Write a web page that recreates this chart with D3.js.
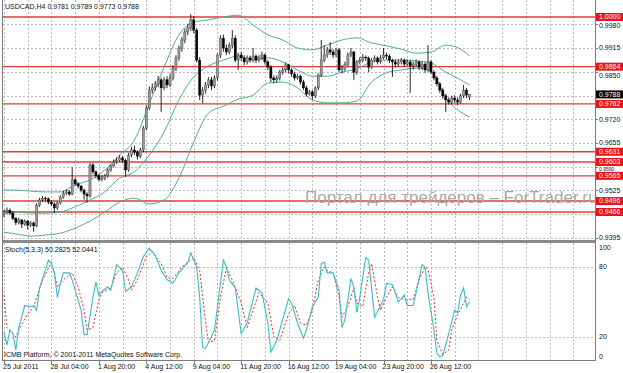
<!DOCTYPE html>
<html lang="en">
<head>
<meta charset="UTF-8">
<title>USDCAD,H4</title>
<script src="https://cdnjs.cloudflare.com/ajax/libs/d3/7.8.5/d3.min.js"></script>
<style>
  body { margin: 0; background: #fff; }
  text { font-family: "Liberation Sans", Arial, sans-serif; }
  .lbl { font-size: 7px; fill: #111; }
  .grid { stroke: #bdbdbd; stroke-width: 1; stroke-dasharray: 2,2; shape-rendering: crispEdges; }
  .frame { stroke: #7a7a7a; stroke-width: 1; shape-rendering: crispEdges; }
  .band { fill: none; stroke: #4fae92; stroke-width: 1; }
</style>
</head>
<body>
<div id="chart"></div>
<script>

// USDCAD H4 candles, prices in pips (0.9788 -> 9788)
var openP = [9458,9466,9471,9463,9449,9438,9444,9433,9441,9430,9436,9428,9485,9499,9504,9502,9493,9488,9477,9491,
  9507,9518,9521,9515,9554,9543,9537,9526,9515,9510,9595,9576,9565,9556,9559,9565,9581,9592,9603,9608,
  9614,9608,9581,9622,9636,9630,9619,9636,9696,9751,9800,9806,9817,9828,9806,9828,9814,9833,9860,9888,
  9915,9937,9959,9970,9992,9964,9882,9786,9800,9814,9828,9811,9833,9896,9942,9915,9904,9923,9942,9882,
  9896,9888,9877,9888,9882,9893,9882,9888,9896,9877,9863,9833,9828,9833,9849,9855,9869,9855,9844,9833,
  9838,9822,9806,9789,9795,9784,9806,9841,9882,9896,9910,9904,9896,9910,9855,9860,9871,9896,9904,9849,
  9877,9882,9890,9888,9863,9882,9888,9877,9888,9896,9893,9882,9877,9871,9877,9882,9871,9877,9866,9871,
  9877,9863,9871,9855,9877,9849,9833,9817,9800,9784,9773,9767,9778,9773,9767,9784,9800,9781];
var highP = [9472,9478,9476,9468,9452,9450,9447,9446,9444,9441,9440,9490,9505,9510,9508,9506,9498,9492,9495,9512,
  9524,9528,9526,9589,9560,9548,9540,9530,9520,9600,9600,9580,9570,9566,9570,9586,9597,9610,9616,9622,
  9620,9612,9628,9645,9648,9635,9642,9702,9758,9810,9818,9825,9838,9834,9835,9838,9845,9868,9895,9922,
  9945,9968,9982,10008,10003,9970,9890,9808,9822,9835,9836,9840,9900,9950,9952,9925,9930,9964,9950,9902,
  9905,9895,9895,9894,9915,9898,9896,9905,9900,9882,9868,9840,9840,9855,9862,9875,9872,9860,9850,9845,
  9842,9828,9812,9800,9800,9810,9846,9937,9923,9918,9931,9912,9916,9915,9868,9878,9902,9915,9908,9882,
  9890,9898,9895,9892,9888,9895,9892,9896,9915,9902,9898,9886,9884,9884,9888,9886,9884,9882,9878,9884,
  9880,9878,9876,9923,9882,9854,9838,9822,9806,9790,9780,9784,9786,9780,9790,9814,9806,9789];
var lowP = [9452,9460,9458,9444,9430,9432,9422,9428,9418,9425,9412,9424,9480,9494,9495,9488,9482,9463,9472,9486,
  9502,9512,9510,9512,9538,9530,9520,9500,9491,9505,9570,9558,9550,9550,9553,9560,9576,9588,9598,9604,
  9600,9562,9576,9616,9622,9610,9614,9630,9690,9745,9790,9798,9808,9740,9800,9805,9808,9826,9852,9880,
  9905,9928,9950,9962,9955,9876,9772,9764,9790,9805,9800,9805,9826,9888,9905,9896,9898,9915,9876,9855,
  9880,9868,9870,9875,9876,9874,9876,9882,9870,9855,9822,9818,9820,9826,9842,9848,9845,9836,9826,9828,
  9815,9800,9782,9785,9773,9778,9800,9836,9876,9888,9896,9888,9890,9849,9845,9852,9865,9890,9827,9842,
  9870,9876,9880,9849,9858,9876,9870,9872,9884,9884,9874,9836,9862,9864,9870,9864,9866,9792,9856,9864,
  9855,9856,9847,9850,9843,9826,9810,9792,9776,9740,9760,9760,9764,9758,9762,9778,9778,9773];
var closeP = [9466,9471,9463,9449,9438,9444,9433,9441,9430,9436,9428,9485,9499,9504,9502,9493,9488,9477,9491,9507,
  9518,9521,9515,9554,9543,9537,9526,9515,9510,9595,9576,9565,9556,9559,9565,9581,9592,9603,9608,9614,
  9608,9581,9622,9636,9630,9619,9636,9696,9751,9800,9806,9817,9828,9806,9828,9814,9833,9860,9888,9915,
  9937,9959,9970,9992,9964,9882,9786,9800,9814,9828,9811,9833,9896,9942,9915,9904,9923,9942,9882,9896,
  9888,9877,9888,9882,9893,9882,9888,9896,9877,9863,9833,9828,9833,9849,9855,9869,9855,9844,9833,9838,
  9822,9806,9789,9795,9784,9806,9841,9882,9896,9910,9904,9896,9910,9855,9860,9871,9896,9904,9849,9877,
  9882,9890,9888,9863,9882,9888,9877,9888,9896,9893,9882,9877,9871,9877,9882,9871,9877,9866,9871,9877,
  9863,9871,9855,9877,9849,9833,9817,9800,9784,9773,9767,9778,9773,9767,9784,9800,9786,9788];

// Bollinger bands at these bar numbers
var bandIdx = [0,4,9,14,19,24,29,34,39,44,49,54,59,64,69,74,79,84,89,94,99,104,109,114,119,124,129,134,139,144,149,154,157];
var bandUpper = [9526,9526,9523,9521,9521,9540,9554,9581,9622,9663,9762,9863,9951,9986,9992,10000,10005,9978,9951,9937,9915,9910,9923,9937,9943,9929,9921,9912,9901,9904,9923,9912,9893];
var bandMiddle = [9469,9466,9463,9463,9466,9480,9499,9521,9559,9576,9622,9685,9773,9836,9866,9882,9893,9882,9888,9877,9855,9838,9838,9849,9858,9877,9882,9882,9880,9874,9849,9828,9814];
var bandLower = [9411,9406,9400,9403,9408,9422,9441,9466,9493,9504,9488,9499,9559,9658,9737,9756,9775,9786,9819,9822,9806,9773,9765,9765,9770,9822,9847,9855,9860,9852,9778,9740,9726];

// Stochastic (5,3,3): main line and signal line
var stochIdx = [0,1,2,3,4,5,7,9,10,11,12,15,16,17,18,19,20,22,23,26,27,28,30,31,32,33,35,36,37,38,40,41,43,44,45,47,49,51,53,55,
  57,59,62,63,65,66,67,68,71,74,75,76,78,80,82,85,87,89,90,92,94,96,97,99,101,102,104,106,107,108,109,111,113,114,115,117,118,119,120,122,
  123,125,128,129,131,133,134,135,136,138,139,141,142,143,145,146,147,148,150,152,153,154,155,156,157];
var stochMain = [24,13,26,23,9,28,47,46,47,43,62,86,83,75,54,66,75,75,69,43,22,22,54,67,56,59,63,60,71,82,77,59,63,69,75,89,96,90,77,69,
  66,75,84,92,80,54,11,10,26,86,80,69,62,23,32,62,58,32,7,17,35,53,49,32,19,26,46,54,83,84,75,75,60,28,35,70,63,41,54,88,
  86,37,52,66,65,50,53,56,47,47,58,82,80,58,26,6,3,4,23,43,41,56,62,46,50.2825];
var signalIdx = [0,1,4,5,8,10,13,16,17,18,20,23,25,27,28,30,32,33,36,38,40,42,43,45,48,50,53,55,57,60,64,66,68,69,71,73,75,77,80,82,
  84,86,89,91,93,96,98,100,102,104,106,108,109,111,113,114,116,118,119,121,123,124,126,127,129,131,133,135,138,140,142,143,145,146,148,150,151,153,155,156,157];
var stochSignal = [56,28,20,26,40,46,69,84,75,63,69,75,63,43,26,28,52,58,62,75,80,69,60,69,89,93,83,71,70,80,88,77,32,15,17,54,79,69,49,28,
  43,58,49,20,17,40,47,32,30,43,69,80,77,75,54,37,46,62,49,46,75,83,54,43,54,63,54,52,52,69,80,78,54,17,5,9,26,39,49,54,52.0441];

// horizontal levels drawn on the chart
var levels = [10000, 9864, 9762, 9631, 9603, 9565, 9496, 9466];
var priceTicks = [9395, 9460, 9525, 9590, 9655, 9720, 9785, 9850, 9915, 9980];
var stochTicks = [0, 20, 80, 100];
var timeIdx = [0, 16, 32, 48, 64, 80, 96, 112, 128, 144];
var timeLabels = ["25 Jul 2011", "28 Jul 04:00", "1 Aug 20:00", "4 Aug 12:00", "9 Aug 04:00",
  "11 Aug 20:00", "16 Aug 12:00", "19 Aug 04:00", "23 Aug 20:00", "26 Aug 12:00"];

var W = 623, H = 373,
    left = 3, right = 595,
    mainTop = 0, mainBottom = 240,
    subTop = 243, subBottom = 360,
    boxH = 8;

var n = closeP.length;
var svg = d3.select('#chart').append('svg')
    .attr('width', W)
    .attr('height', H);

var x = d3.scaleLinear().domain([0, n - 1]).range([4, 469.5]);
var y = d3.scaleLinear().domain([10000, 9466]).range([17, 212]);
var ys = d3.scaleLinear().domain([0, 100]).range([360.3, 243.7]);
var fmt = function (p) { return (p / 10000).toFixed(4); };

var defs = svg.append('defs');
defs.append('clipPath').attr('id', 'clipMain').append('rect')
    .attr('x', left).attr('y', mainTop).attr('width', right - left).attr('height', mainBottom - mainTop);
defs.append('clipPath').attr('id', 'clipSub').append('rect')
    .attr('x', left).attr('y', subTop).attr('width', right - left).attr('height', subBottom - subTop);

// grids
var gridX = d3.range(0, 200, 8).filter(function (i) { return x(i) < right - 2; });
var gMain = svg.append('g').attr('clip-path', 'url(#clipMain)');
var gSub = svg.append('g').attr('clip-path', 'url(#clipSub)');

gMain.selectAll('line.vg').data(gridX).enter().append('line')
    .attr('class', 'grid')
    .attr('x1', function (d) { return Math.round(x(d)) + 0.5; })
    .attr('x2', function (d) { return Math.round(x(d)) + 0.5; })
    .attr('y1', mainTop).attr('y2', mainBottom);
gMain.selectAll('line.hg').data(priceTicks).enter().append('line')
    .attr('class', 'grid')
    .attr('x1', left).attr('x2', right)
    .attr('y1', function (d) { return Math.round(y(d)) + 0.5; })
    .attr('y2', function (d) { return Math.round(y(d)) + 0.5; });

gSub.selectAll('line.vg').data(gridX).enter().append('line')
    .attr('class', 'grid')
    .attr('x1', function (d) { return Math.round(x(d)) + 0.5; })
    .attr('x2', function (d) { return Math.round(x(d)) + 0.5; })
    .attr('y1', subTop).attr('y2', subBottom);
gSub.selectAll('line.hg').data([20, 80]).enter().append('line')
    .attr('class', 'grid')
    .attr('x1', left).attr('x2', right)
    .attr('y1', function (d) { return Math.round(ys(d)) + 0.5; })
    .attr('y2', function (d) { return Math.round(ys(d)) + 0.5; });

// watermark
svg.append('text')
    .attr('x', 305).attr('y', 203)
    .style('font-size', '17px')
    .style('fill', '#a9a9a9')
    .text('Портал для трейдеров – ForTrader.ru');

// level lines
gMain.selectAll('line.lvl').data(levels).enter().append('line')
    .attr('x1', left).attr('x2', right)
    .attr('y1', function (d) { return y(d); })
    .attr('y2', function (d) { return y(d); })
    .attr('stroke', '#e03c3c')
    .attr('stroke-width', 1.4);

// bollinger bands
var bandLine = function (arr) {
  return d3.line()
      .x(function (d, k) { return x(bandIdx[k]); })
      .y(function (d) { return y(d); })
      .curve(d3.curveMonotoneX)(arr);
};
[bandUpper, bandMiddle, bandLower].forEach(function (arr) {
  gMain.append('path').attr('class', 'band').attr('d', bandLine(arr));
});

// candles
var bodyW = 2.2;
var bars = gMain.selectAll('g.bar').data(d3.range(n)).enter().append('g');
bars.append('line')
    .attr('x1', function (i) { return x(i); })
    .attr('x2', function (i) { return x(i); })
    .attr('y1', function (i) { return y(highP[i]); })
    .attr('y2', function (i) { return y(lowP[i]); })
    .attr('stroke', '#111')
    .attr('stroke-width', 0.9);
bars.append('rect')
    .attr('x', function (i) { return x(i) - bodyW / 2; })
    .attr('y', function (i) { return y(Math.max(openP[i], closeP[i])); })
    .attr('width', bodyW)
    .attr('height', function (i) { return Math.max(0.8, Math.abs(y(openP[i]) - y(closeP[i]))); })
    .attr('fill', function (i) { return closeP[i] >= openP[i] ? '#9a9a9a' : '#000'; })
    .attr('stroke', function (i) { return closeP[i] >= openP[i] ? '#3a3a3a' : '#000'; })
    .attr('stroke-width', 0.4);

// stochastic
gSub.append('path')
    .attr('d', d3.line()
        .x(function (d, k) { return x(signalIdx[k]); })
        .y(function (d) { return ys(d); })(stochSignal))
    .attr('fill', 'none')
    .attr('stroke', '#e03030')
    .attr('stroke-width', 1)
    .attr('stroke-dasharray', '2,2');
gSub.append('path')
    .attr('d', d3.line()
        .x(function (d, k) { return x(stochIdx[k]); })
        .y(function (d) { return ys(d); })(stochMain))
    .attr('fill', 'none')
    .attr('stroke', '#3cbcc4')
    .attr('stroke-width', 1.1);

// frames
svg.append('line').attr('class', 'frame').attr('x1', 2.5).attr('x2', 2.5).attr('y1', 0).attr('y2', subBottom);
svg.append('line').attr('class', 'frame').attr('x1', right + 0.5).attr('x2', right + 0.5).attr('y1', 0).attr('y2', subBottom + 0.5);
svg.append('rect').attr('x', 2).attr('y', mainBottom).attr('width', right - 2).attr('height', 3).attr('fill', '#8a8a8a');
svg.append('line').attr('class', 'frame').attr('x1', 2).attr('x2', right + 1).attr('y1', subBottom + 0.5).attr('y2', subBottom + 0.5);

// price axis: tick labels that sit under a level box are moved clear of it (or hidden when fully covered)
var last = closeP[n - 1];
var boxes = levels.concat([last]);
var placeTick = function (p) {
  var cy = y(p);
  var near = boxes.filter(function (b) { return Math.abs(y(b) - cy) < boxH + 0.5; });
  if (!near.length) return { p: p, y: cy, size: 7 };
  if (near.some(function (b) { return Math.abs(y(b) - cy) < 3.5; })) return null;
  var b = near[0], s = cy > y(b) ? 1 : -1, ny = y(b) + s * (boxH + 0.5);
  var other = boxes.filter(function (o) { return o !== b && Math.abs(y(o) - ny) < boxH + 0.5; });
  if (other.length) return { p: p, y: (y(b) + y(other[0])) / 2, size: 5 };
  return { p: p, y: ny, size: 7 };
};
var tickPos = priceTicks.map(placeTick).filter(function (t) { return t; });

var axisG = svg.append('g');
axisG.selectAll('line.pt').data(priceTicks).enter().append('line')
    .attr('class', 'frame')
    .attr('x1', right).attr('x2', right + 3)
    .attr('y1', function (d) { return Math.round(y(d)) + 0.5; })
    .attr('y2', function (d) { return Math.round(y(d)) + 0.5; });
axisG.selectAll('text.pt').data(tickPos).enter().append('text')
    .attr('class', 'lbl')
    .style('font-size', function (d) { return d.size + 'px'; })
    .attr('x', 599).attr('y', function (d) { return d.y; })
    .attr('dy', '0.35em')
    .text(function (d) { return fmt(d.p); });

axisG.selectAll('text.st').data(stochTicks).enter().append('text')
    .attr('class', 'lbl')
    .attr('x', 599)
    .attr('y', function (d) { return d === 100 ? ys(d) + 4 : (d === 0 ? ys(d) - 4 : ys(d)); })
    .attr('dy', '0.35em')
    .text(function (d) { return d; });

// level labels
var lv = axisG.selectAll('g.lv').data(levels).enter().append('g');
lv.append('rect')
    .attr('x', 596).attr('y', function (d) { return y(d) - boxH / 2; })
    .attr('width', 27).attr('height', boxH)
    .attr('fill', '#e8141c');
lv.append('text')
    .attr('class', 'lbl')
    .style('fill', '#fff')
    .attr('x', 599).attr('y', function (d) { return y(d); })
    .attr('dy', '0.35em')
    .text(fmt);

axisG.append('rect')
    .attr('x', 596).attr('y', y(last) - boxH / 2)
    .attr('width', 27).attr('height', boxH)
    .attr('fill', '#000');
axisG.append('text')
    .attr('class', 'lbl')
    .style('fill', '#fff')
    .attr('x', 599).attr('y', y(last))
    .attr('dy', '0.35em')
    .text(fmt(last));

// time axis
svg.selectAll('line.tt').data(timeIdx).enter().append('line')
    .attr('class', 'frame')
    .attr('x1', function (d) { return Math.round(x(d)) + 0.5; })
    .attr('x2', function (d) { return Math.round(x(d)) + 0.5; })
    .attr('y1', subBottom).attr('y2', subBottom + 4);
svg.selectAll('text.tt').data(timeIdx).enter().append('text')
    .attr('class', 'lbl')
    .attr('x', function (d) { return x(d) - 1; })
    .attr('y', 369)
    .text(function (d, k) { return timeLabels[k]; });

// captions
svg.append('text').attr('class', 'lbl').attr('x', 5).attr('y', 9)
    .text('USDCAD,H4  ' + [openP, highP, lowP, closeP].map(function (a) { return fmt(a[n - 1]); }).join(' '));
svg.append('text').attr('class', 'lbl').attr('x', 5).attr('y', 252)
    .text('Stoch(5,3,3) ' + stochMain[stochMain.length - 1].toFixed(4) + ' ' + stochSignal[stochSignal.length - 1].toFixed(4));
svg.append('text').attr('class', 'lbl').attr('x', 4).attr('y', 357)
    .text('ICMB Platform, © 2001-2011 MetaQuotes Software Corp.');

</script>
</body>
</html>
